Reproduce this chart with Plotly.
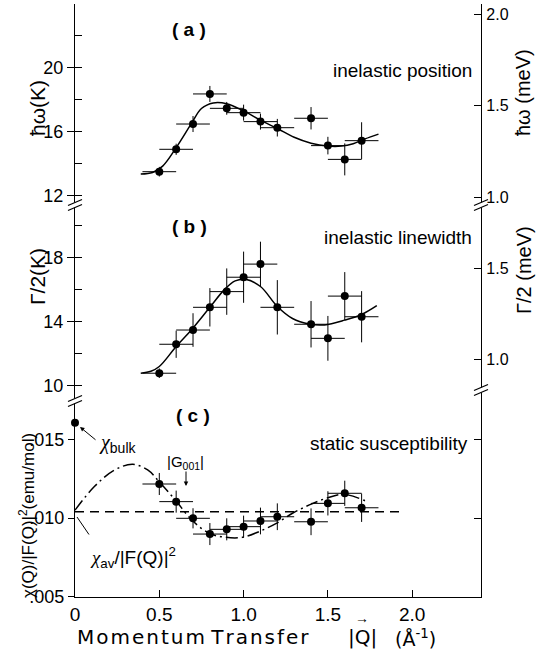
import plotly.graph_objects as go

# ---------------- data ----------------
q = [0.5, 0.6, 0.7, 0.8, 0.9, 1.0, 1.1, 1.2, 1.4, 1.5, 1.6, 1.7]
dq = [0.1] * 12

# (a) inelastic position, K
hw_K = [13.5, 14.9, 16.48, 18.36, 17.46, 17.19, 16.63, 16.25, 16.84, 15.13, 14.27, 15.44]
hw_err = [0.3, 0.35, 0.5, 0.5, 0.4, 0.5, 0.5, 0.55, 0.7, 0.55, 1.0, 1.15]
fit_a_q = [0.39, 0.46, 0.52, 0.6, 0.69, 0.75, 0.82, 0.9, 1.0, 1.1, 1.2, 1.3, 1.4, 1.5, 1.58, 1.65, 1.72, 1.8]
fit_a_y = [13.35, 13.45, 13.85, 15.0, 16.5, 17.45, 17.8, 17.75, 17.3, 16.72, 16.2, 15.65, 15.28, 15.1, 15.1, 15.25, 15.55, 15.85]

# (b) inelastic linewidth, K
gam_K = [10.78, 12.59, 13.48, 14.9, 15.88, 16.78, 17.6, 14.9, 13.84, 12.96, 15.6, 14.31]
gam_err = [0.3, 0.85, 1.05, 1.2, 1.45, 1.6, 1.4, 1.7, 1.45, 1.4, 1.5, 1.6]
fit_b_q = [0.39, 0.45, 0.5, 0.6, 0.69, 0.8, 0.89, 0.95, 1.01, 1.1, 1.2, 1.29, 1.39, 1.48, 1.6, 1.7, 1.79]
fit_b_y = [10.78, 10.9, 11.2, 12.45, 13.48, 14.9, 16.05, 16.55, 16.65, 16.2, 14.95, 14.2, 13.85, 13.8, 14.1, 14.45, 15.0]

# (c) static susceptibility, emu/mol
chi = [0.01216, 0.01104, 0.00998, 0.00898, 0.00928, 0.00945, 0.00981, 0.01008, 0.00976, 0.01093, 0.01157, 0.01065]
chi_err = [0.0007, 0.0007, 0.00064, 0.0007, 0.0007, 0.0007, 0.00085, 0.00085, 0.00085, 0.00077, 0.0008, 0.0009]
bulk_q = [0.0]
bulk_chi = [0.01605]
dd_q = [0.0, 0.115, 0.234, 0.342, 0.431, 0.5, 0.595, 0.693, 0.796, 0.895, 0.993, 1.09, 1.194, 1.29, 1.39, 1.49, 1.595, 1.72]
dd_chi = [0.0105, 0.0120, 0.01305, 0.01341, 0.01305, 0.0123, 0.01114, 0.00987, 0.00903, 0.00877, 0.00877, 0.00913, 0.00966, 0.0103, 0.01083, 0.01125, 0.0115, 0.0111]
chi_av_q = [0.0, 1.94]
chi_av = [0.0104, 0.0104]
G001 = 0.658

x_ticks = [0, 0.5, 1.0, 1.5, 2.0]
x_ticktext = ["0", "0.5", "1.0", "1.5", "2.0"]

# ---------------- layout geometry (pixels) ----------------
W_FIG, H_FIG = 541, 649
L, R, T, B = 75, 481, 4, 597
PW, PH = R - L, B - T


def px(xp):
    return (xp - L) / PW


def py(yp):
    return (B - yp) / PH


FONT = "Liberation Sans, Arial, sans-serif"
WIDE = "DejaVu Sans, Liberation Sans, sans-serif"
SERIF = "Liberation Serif, Times New Roman, serif"
BLACK = "black"
HAIR = "\u200a"

fig = go.Figure()


def pts(x, y, err, yaxis):
    fig.add_trace(go.Scatter(
        x=x, y=y, mode="markers", xaxis="x", yaxis=yaxis,
        marker=dict(color=BLACK, size=8),
        error_x=dict(type="data", array=dq, color=BLACK, thickness=1, width=0),
        error_y=dict(type="data", array=err, color=BLACK, thickness=1, width=0),
        showlegend=False, cliponaxis=False))


def curve(x, y, yaxis, dash="solid", shape="spline"):
    fig.add_trace(go.Scatter(
        x=x, y=y, mode="lines", xaxis="x", yaxis=yaxis,
        line=dict(color=BLACK, width=1.5, dash=dash, shape=shape),
        showlegend=False))


curve(fit_a_q, fit_a_y, "y")
pts(q, hw_K, hw_err, "y")
curve(fit_b_q, fit_b_y, "y2")
pts(q, gam_K, gam_err, "y2")
curve(chi_av_q, chi_av, "y3", dash="9px,6px", shape="linear")
curve(dd_q, dd_chi, "y3", dash="12px,4px,2px,4px")
pts(q, chi, chi_err, "y3")
fig.add_trace(go.Scatter(x=bulk_q, y=bulk_chi, mode="markers", xaxis="x", yaxis="y3",
                         marker=dict(color=BLACK, size=8), showlegend=False, cliponaxis=False))
# empty traces so that the right-hand axes get drawn
for ya in ("y4", "y5", "y6"):
    fig.add_trace(go.Scatter(x=[], y=[], xaxis="x", yaxis=ya, showlegend=False, hoverinfo="skip"))

# axis ranges from pixel calibration
a_rng = [20 - (205 - 67.7) / 16, 20 + (67.7 - 4) / 16]
b_rng = [10 - (401 - 385.7) / 16, 18 + (257.7 - 205) / 16]
c_rng = [0.015 - (597 - 439.3) / 78.7 * 0.005, 0.015 + (439.3 - 401) / 78.7 * 0.005]
ar_rng = [1.0 - (205 - 197) / 183, 2.0 + (14 - 4) / 183]
br_rng = [1.0 - (401 - 359.5) / 182.4, 1.5 + (268.3 - 205) / 182.4]
x_rng = [0, PW / 168.6]

tickfont = dict(family=FONT, size=18, color=BLACK)
rfont = dict(family=FONT, size=16, color=BLACK)
common_y = dict(showgrid=False, zeroline=False, showline=True, linecolor=BLACK, linewidth=1.3,
                tickcolor=BLACK, tickwidth=1.3)

fig.update_layout(
    width=W_FIG, height=H_FIG,
    margin=dict(l=L, r=W_FIG - R, t=T, b=H_FIG - B),
    paper_bgcolor="white", plot_bgcolor="white",
    font=dict(family=FONT, color=BLACK),
    xaxis=dict(range=x_rng, anchor="y3", domain=[0, 1], showgrid=False, zeroline=False,
               showline=True, linecolor=BLACK, linewidth=1.3, ticks="inside", ticklen=7,
               tickwidth=1.3, tickcolor=BLACK, tickvals=x_ticks, ticktext=x_ticktext,
               ticklabelstandoff=0, tickfont=dict(family=FONT, size=19, color=BLACK)),
    xaxis2=dict(range=x_rng, overlaying="x", side="top", anchor="free", position=1,
                showgrid=False, zeroline=False, showline=True, linecolor=BLACK, linewidth=1.3,
                ticks="inside", ticklen=7, tickwidth=1.3, tickcolor=BLACK,
                tickvals=x_ticks, showticklabels=False),
    yaxis=dict(domain=[py(205), 1], range=a_rng, anchor="x", tickvals=[12, 16, 20],
               ticks="outside", ticklen=7, tickfont=tickfont,
               minor=dict(tickvals=[12, 14, 16, 18, 20, 22], ticks="inside", ticklen=7,
                          tickcolor=BLACK, tickwidth=1.3),
               **common_y),
    yaxis2=dict(domain=[py(401), py(205)], range=b_rng, anchor="x", tickvals=[10, 14, 18],
                ticks="outside", ticklen=7, tickfont=tickfont,
                minor=dict(tickvals=[10, 12, 14, 16, 18, 20], ticks="inside", ticklen=7,
                           tickcolor=BLACK, tickwidth=1.3),
                **common_y),
    yaxis3=dict(domain=[0, py(401)], range=c_rng, anchor="x", tickvals=[0.005, 0.010, 0.015],
                ticktext=[".005", ".010", ".015"], ticks="outside", ticklen=6, tickfont=tickfont,
                **common_y),
    yaxis4=dict(overlaying="y", side="right", anchor="x", range=ar_rng, tickvals=[1.0, 1.5, 2.0],
                ticktext=["1.0", "1.5", "2.0"], ticks="inside", ticklen=7, ticklabelstandoff=1,
                tickfont=rfont, **common_y),
    yaxis5=dict(overlaying="y2", side="right", anchor="x", range=br_rng, tickvals=[1.0, 1.5],
                ticktext=["1.0", "1.5"], ticks="inside", ticklen=7, ticklabelstandoff=1,
                tickfont=rfont, **common_y),
    yaxis6=dict(overlaying="y3", side="right", anchor="x", range=c_rng, tickvals=[0.010, 0.015],
                ticks="inside", ticklen=7, showticklabels=False, **common_y),
)

# --- axis breaks ---
shapes = []


def brk(xpix, ypix):
    xa = px(xpix)
    ya = py(ypix)
    shapes.append(dict(type="rect", xref="paper", yref="paper", xsizemode="pixel", ysizemode="pixel",
                       xanchor=xa, yanchor=ya, x0=-3, x1=3, y0=-2.5, y1=2.5,
                       fillcolor="white", line=dict(width=0), layer="above"))
    for off in (-2.5, 2.5):
        shapes.append(dict(type="line", xref="paper", yref="paper", xsizemode="pixel", ysizemode="pixel",
                           xanchor=xa, yanchor=ya, x0=-7, x1=7, y0=off - 3, y1=off + 3,
                           line=dict(color=BLACK, width=1.3), layer="above"))


brk(L, 205)
brk(L, 401)
brk(R, 205)
brk(R, 390)
fig.update_layout(shapes=shapes)

# --- annotations ---
ann = []


def text(xp, yp, s, size=18, xanchor="center", angle=0, bold=False, family=FONT):
    ann.append(dict(x=px(xp), y=py(yp), xref="paper", yref="paper", text=("<b>%s</b>" % s if bold else s),
                    showarrow=False, xanchor=xanchor, yanchor="middle", textangle=angle,
                    font=dict(family=family, size=size, color=BLACK)))


def arrow(hx, hy, tx, ty, head=2, size=0.9):
    ann.append(dict(x=px(hx), y=py(hy), xref="paper", yref="paper", ax=tx - hx, ay=ty - hy,
                    text="", showarrow=True, arrowhead=head, arrowsize=size, arrowwidth=1,
                    arrowcolor=BLACK))


def spaced(word):
    return HAIR.join(word)


text(189, 29, "( a )", 19, bold=True)
text(189, 227, "( b )", 19, bold=True)
text(193, 415, "( c )", 19, bold=True)
text(474, 70, "inelastic position", 19, xanchor="right")
text(474, 238, "inelastic linewidth", 19, xanchor="right")
text(470, 443, "static susceptibility", 19, xanchor="right")
text(37, 108, "ħω(K)", 21, angle=-90)
text(37, 277, "Γ/2(K)", 21, angle=-90)
text(27, 516, "χ(Q)/|F(Q)|<sup>2</sup>(emu/mol)", 17, angle=-90)
text(523, 93, "ħω (meV)", 20, angle=-90)
text(524, 270, "Γ/2 (meV)", 20, angle=-90)

# x-axis title with vector arrow over Q
text(75, 637, spaced("Momentum") + " " + spaced("Transfer"), 20, xanchor="left", family=WIDE)
text(362, 637, "|Q|", 20, family=WIDE)
text(362, 618, "→", 14)
text(438, 638, "(Å<sup>-1</sup>)", 19, xanchor="right", family=WIDE)

# annotations in (c)
chi_sym = "<span style='font-family:%s'><i>χ</i></span>" % SERIF
text(97, 443, chi_sym + "<sub>bulk</sub>", 20, xanchor="left")
arrow(80, 427, 97, 441)
text(185, 462, "|G<sub>001</sub>|", 15)
arrow(186, 486, 186, 470)
text(88, 557, chi_sym + "<sub>av</sub>/|F(Q)|<sup>2</sup>", 19, xanchor="left")
arrow(77, 517, 90, 536, head=0)
fig.update_layout(annotations=ann)

fig.write_html("out.html")
